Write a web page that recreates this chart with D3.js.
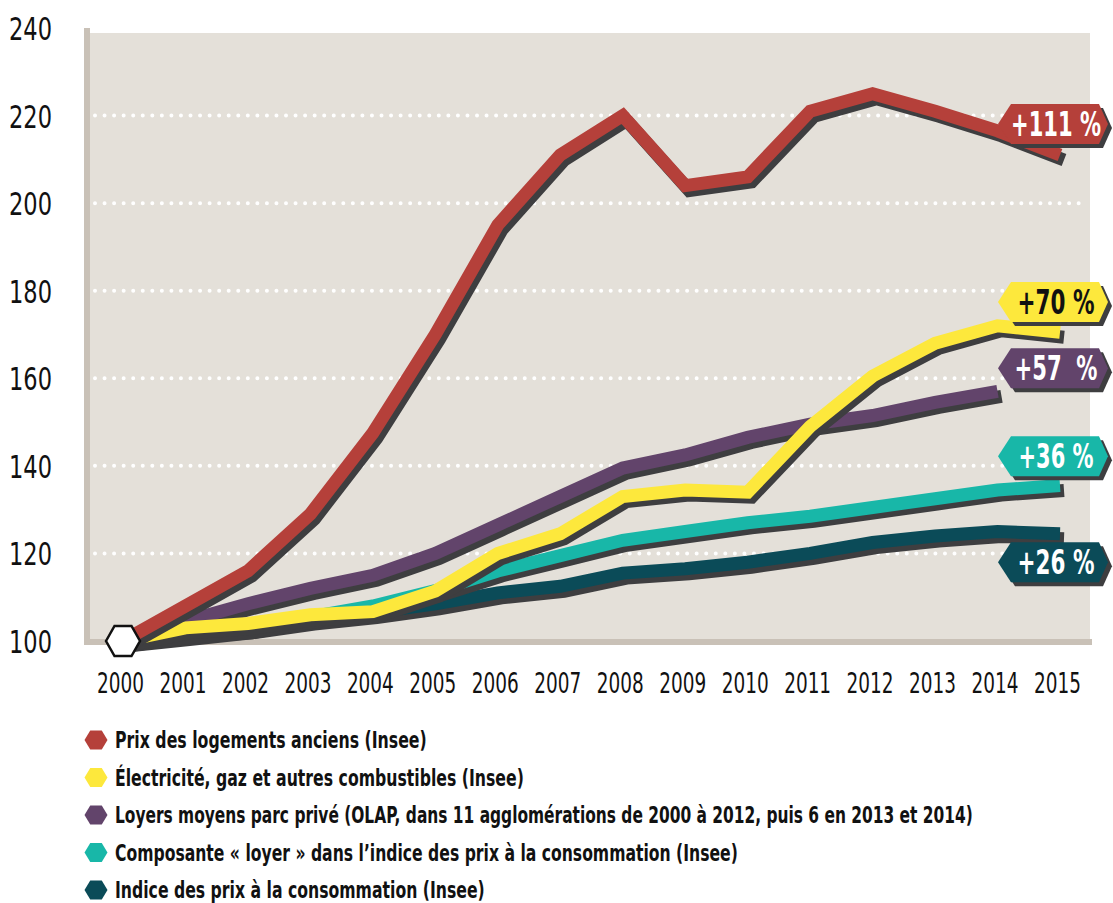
<!DOCTYPE html>
<html><head><meta charset="utf-8">
<script src="https://cdn.jsdelivr.net/npm/d3@7"></script>
<style>
body{margin:0;background:#fff;}
text{font-family:'DejaVu Sans',sans-serif;}
</style></head>
<body><svg id="c" width="1113" height="903"></svg>
<script>
const years = [2000,2001,2002,2003,2004,2005,2006,2007,2008,2009,2010,2011,2012,2013,2014,2015];
const prixLogements = [100,108,116,129,147.5,170,195,211,220,204,206,221,225,221,216.5,211];
const energie = [100,103,104,106,106.7,111.4,120,124.5,133,134.5,134,149,160.5,168,172,170.5];
const loyersOlap = [100,104.5,108.5,112,115,120,126.5,133,139.5,142.5,146.5,149.5,151.5,154.5,157];
const composanteLoyer = [100,102,103,105.5,108,111.5,116,119.5,123,125,127,128.5,130.5,132.5,134.5,135.5];
const ipc = [100,101.5,103,105,106.5,108.5,111,112.5,115.5,116.5,118,120,122.5,124,125,124.5];
const yTicks = [100,120,140,160,180,200,220,240];
const seriesNames = ["Prix des logements anciens (Insee)","Électricité, gaz et autres combustibles (Insee)","Loyers moyens parc privé (OLAP, dans 11 agglomérations de 2000 à 2012, puis 6 en 2013 et 2014)","Composante « loyer » dans l’indice des prix à la consommation (Insee)","Indice des prix à la consommation (Insee)"];
const tagLabels = ["+111 %","+70 %","+57  %","+36 %","+26 %"];
const tagValues = [218.1,177.4,162.3,142.2,118];

// styles (kept apart from data)
const seriesColors = ["#b5403a","#fde83c","#62446b","#18b7a8","#0b4b58"];
const tagTextColors = ["#fff","#111","#fff","#fff","#fff"];
const tagTextWidths = [90,77,83,75,77];
const legendTextWidths = [312,409,858,623,370];

const svg = d3.select("#c");
const x = d3.scaleLinear().domain([2000,2015]).range([123,1060]);
const y = d3.scaleLinear().domain([100,240]).range([641,28]);

// squeeze a text horizontally to a target width (condensed look) around its anchor
function squeeze(sel, target, ax, ay){
  sel.each(function(){
    const w = this.getComputedTextLength();
    const s = target / w;
    d3.select(this).attr("transform", `translate(${ax||0},${ay||0}) scale(${s},1)`);
  });
}

// plot background
svg.append("rect").attr("x",89).attr("y",33).attr("width",1001).attr("height",607).attr("fill","#e4e0d9");
svg.append("rect").attr("x",84).attr("y",28).attr("width",6).attr("height",617).attr("fill","#c9c1b7");
svg.append("rect").attr("x",84).attr("y",639).attr("width",1008).attr("height",6).attr("fill","#c9c1b7");

// grid
svg.append("g").selectAll("line").data(yTicks.filter(d=>d>100&&d<240)).join("line")
  .attr("x1",95).attr("x2",1088).attr("y1",d=>y(d)).attr("y2",d=>y(d))
  .attr("stroke","#fff").attr("stroke-width",4).attr("stroke-linecap","round").attr("stroke-dasharray","0 9.55");

// y axis
const yAxis = d3.axisLeft(y).tickValues(yTicks).tickSize(0).tickPadding(0);
const ga = svg.append("g").attr("transform","translate(52,0)").call(yAxis);
ga.select(".domain").remove();
ga.selectAll("text").attr("font-size",32).attr("fill","#111").attr("dy","0.36em").attr("x",0)
  .style("font-family","'DejaVu Sans',sans-serif");
squeeze(ga.selectAll("text"), 43);

// x axis
const xAxis = d3.axisBottom(x).tickValues(years).tickFormat(d3.format("d")).tickSize(0).tickPadding(0);
const gx = svg.append("g").attr("transform","translate(-3,672)").call(xAxis);
gx.select(".domain").remove();
gx.selectAll("text").attr("font-size",29).attr("fill","#111").attr("dy","0.71em").attr("y",0)
  .style("font-family","'DejaVu Sans',sans-serif");
squeeze(gx.selectAll("text"), 47);

// lines
const allSeries = [prixLogements, energie, loyersOlap, composanteLoyer, ipc];
const line = d3.line().x((d,i)=>x(years[i])).y(d=>y(d));
const order = [4,3,2,1,0];
order.forEach(k=>{
  const data = allSeries[k];
  svg.append("path").attr("d",line(data)).attr("fill","none").attr("stroke","#3e3e40")
    .attr("stroke-width",13).attr("stroke-linejoin","miter").attr("transform","translate(4,5)");
  svg.append("path").attr("d",line(data)).attr("fill","none").attr("stroke",seriesColors[k])
    .attr("stroke-width",13).attr("stroke-linejoin","miter");
});

// start hexagon
function hexPts(cx,cy,w,h){
  const q=w/4;
  return [[cx-w/2,cy],[cx-q,cy-h/2],[cx+q,cy-h/2],[cx+w/2,cy],[cx+q,cy+h/2],[cx-q,cy+h/2]].map(p=>p.join(",")).join(" ");
}
svg.append("polygon").attr("points",hexPts(x(2000),y(100),34,30)).attr("fill","#fff").attr("stroke","#111").attr("stroke-width",2.5);

// tags
function tagPts(x0,x1,cy,h,li,ri){
  return [[x0,cy],[x0+li,cy-h/2],[x1-ri,cy-h/2],[x1,cy],[x1-ri,cy+h/2],[x0+li,cy+h/2]].map(p=>p.join(",")).join(" ");
}
tagValues.forEach((v,k)=>{
  const cy = y(v);
  const g = svg.append("g");
  g.append("polygon").attr("points",tagPts(998,1108,cy,40,13,9)).attr("fill","#3e3e40").attr("transform","translate(4,4)");
  g.append("polygon").attr("points",tagPts(998,1108,cy,40,13,9)).attr("fill",seriesColors[k]);
  const t = g.append("text").attr("x",0).attr("y",0).attr("dy","0.36em").attr("text-anchor","middle")
    .attr("font-size",34).attr("font-weight","bold").attr("fill",tagTextColors[k])
    .style("white-space","pre").text(tagLabels[k]);
  squeeze(t, tagTextWidths[k], 1056, cy);
});

// legend
const lg = svg.append("g");
seriesNames.forEach((n,k)=>{
  const cy = 740 + k*37.5;
  lg.append("polygon").attr("points",hexPts(96,cy,23,19)).attr("fill",seriesColors[k]);
  const t = lg.append("text").attr("x",0).attr("y",0).attr("dy","0.36em").attr("font-size",23).attr("font-weight","bold").attr("fill","#111").text(n);
  squeeze(t, legendTextWidths[k], 115, cy);
});
</script></body></html>
